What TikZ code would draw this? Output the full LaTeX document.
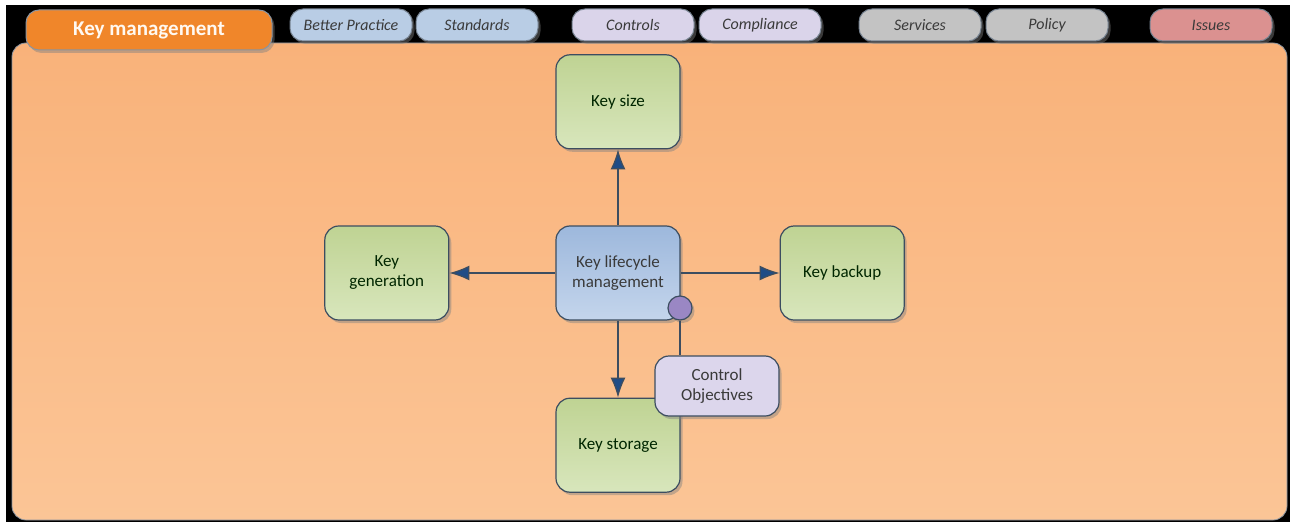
\documentclass[tikz,border=0pt]{standalone}
\usepackage{fontspec}
\setmainfont{Carlito}
\usetikzlibrary{shapes,arrows.meta,positioning,shadows}

\definecolor{panelA}{HTML}{F9B27A}
\definecolor{panelB}{HTML}{FBC596}
\definecolor{tabOrange}{HTML}{F0862A}
\definecolor{tabBlue}{HTML}{B9CDE5}
\definecolor{tabLilac}{HTML}{DAD4EA}
\definecolor{tabGrey}{HTML}{C3C3C3}
\definecolor{tabRose}{HTML}{DB9190}
\definecolor{greenA}{HTML}{BFD393}
\definecolor{greenB}{HTML}{D8E6BC}
\definecolor{blueA}{HTML}{9DB8DC}
\definecolor{blueB}{HTML}{C4D5EC}
\definecolor{lilac}{HTML}{DCD6EC}
\definecolor{dotViolet}{HTML}{9A87C4}
\definecolor{edge}{HTML}{3C4D60}
\definecolor{arrowBlue}{HTML}{1F4C86}
\definecolor{inkGrey}{HTML}{3A3A3A}

\tikzset{
  boxshadow/.style={drop shadow={shadow xshift=2.5pt,shadow yshift=-3pt,opacity=.45}},
  keybox/.style={rectangle, rounded corners=14pt, draw=edge, line width=1.2pt,
    minimum width=124pt, minimum height=94pt, align=center, font=\fontsize{17}{20}\selectfont,
    text=inkGrey, boxshadow},
  greenbox/.style={keybox, top color=greenA, bottom color=greenB, text=black!75!green!60!black},
  tab/.style={rectangle, rounded corners=13pt, draw=edge!70, line width=1pt,
    minimum width=122pt, minimum height=32pt, font=\itshape\fontsize{16}{18}\selectfont,
    text=inkGrey, boxshadow},
  flow/.style={draw=edge, line width=1.3pt,
    -{Latex[length=20pt,width=15pt,fill=arrowBlue]}}
}

\begin{document}
\begin{tikzpicture}[x=1pt,y=-1pt]
\useasboundingbox (0,0) rectangle (1290,524);
\fill[white] (0,0) rectangle (1290,524);
\fill[black] (6,5) rectangle (1290,522);

% orange panel
\shade[top color=panelA, bottom color=panelB, rounded corners=14pt]
  (12,43) rectangle (1287,520);
\draw[edge!60, line width=.8pt, rounded corners=14pt] (12,43) rectangle (1287,520);

% tabs along the top
\node[tab, fill=tabOrange, draw=edge!60, minimum width=246pt, minimum height=40pt,
  font=\bfseries\fontsize{21}{24}\selectfont, text=white!95!orange] (keymgmt) at (149,30) {Key management};
\node[tab, fill=tabBlue] (better) at (351,25) {Better Practice};
\node[tab, fill=tabBlue] (standards) at (477,25) {Standards};
\node[tab, fill=tabLilac] (controls) at (633,25) {Controls};
\node[tab, fill=tabLilac] (compliance) at (760,25) {Compliance};
\node[tab, fill=tabGrey] (services) at (920,25) {Services};
\node[tab, fill=tabGrey] (policy) at (1047,25) {Policy};
\node[tab, fill=tabRose] (issues) at (1211,25) {Issues};

% lifecycle and its four steps
\node[keybox, top color=blueA, bottom color=blueB] (life) at (618,273) {Key lifecycle\\management};
\node[greenbox, above=76pt of life] (keysize) {Key size};
\node[greenbox, left=106pt of life] (keygen) {Key\\generation};
\node[greenbox, right=99pt of life] (backup) {Key backup};
\node[greenbox, below=77pt of life] (storage) {Key storage};

\draw[flow] (life) -- (keysize);
\draw[flow] (life) -- (keygen);
\draw[flow] (life) -- (backup);
\draw[flow] (life) -- (storage);

% control objectives
\node[keybox, fill=lilac, minimum height=60pt] (ctrlobj) at (717,386) {Control\\Objectives};
\node[circle, fill=dotViolet, draw=edge, line width=1.2pt, minimum size=24pt, inner sep=0pt,
  boxshadow] (dot) at (680,308) {};
\draw[edge, line width=1.2pt] (dot) -- (dot |- ctrlobj.north);
\end{tikzpicture}
\end{document}
